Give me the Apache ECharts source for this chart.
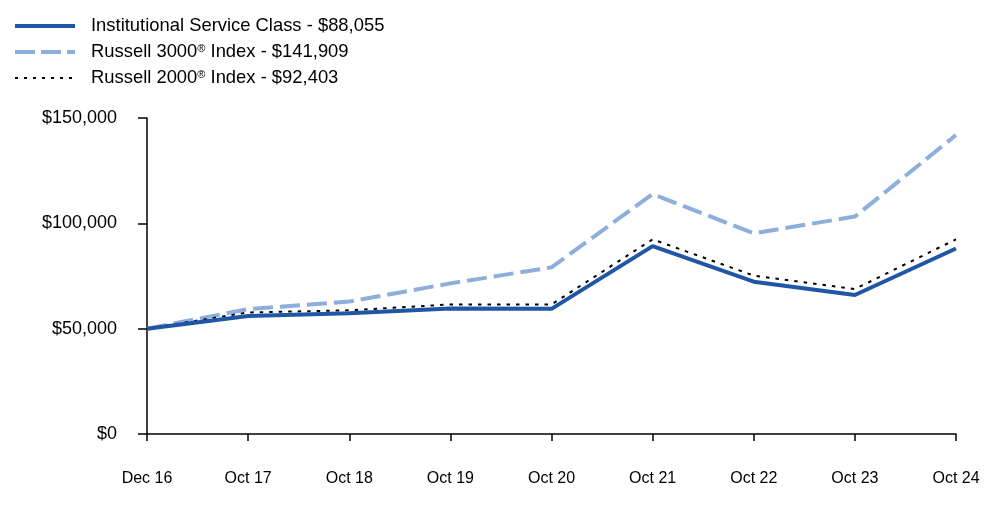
<!DOCTYPE html>
<html>
<head>
<meta charset="utf-8">
<script src="https://cdn.jsdelivr.net/npm/echarts@6/dist/echarts.min.js"></script>
<style>html,body{margin:0;padding:0;background:#fff}#c{width:1000px;height:523px}</style>
</head>
<body>
<div id="c"></div>
<script>
const categories = ['Dec 16','Oct 17','Oct 18','Oct 19','Oct 20','Oct 21','Oct 22','Oct 23','Oct 24'];
const institutional = [50000, 56000, 57300, 59600, 59400, 89200, 72300, 66000, 88055];
const russell3000 = [50000, 59300, 62900, 71500, 79100, 113900, 95300, 103200, 141909];
const russell2000 = [50000, 57700, 58700, 61500, 61500, 92400, 75200, 68800, 92403];
const yTicks = [0, 50000, 100000, 150000];
const names = ['Institutional Service Class - $88,055','Russell 3000® Index - $141,909','Russell 2000® Index - $92,403'];

const chart = echarts.init(document.getElementById('c'));
const font = 'Arial, "Liberation Sans", sans-serif';
const styles = [
  {color: '#1f56a6', width: 4, type: 'solid'},
  {color: '#8eaedb', width: 4, type: [20, 6]},
  {color: '#000', width: 2, type: [3, 6]}
];
chart.setOption({
  animation: false,
  textStyle: {fontFamily: font},
  legend: {
    orient: 'vertical', left: 13, top: 17, padding: 0, itemWidth: 60, itemHeight: 18, itemGap: 8,
    data: names.map((n, i) => ({name: n, lineStyle: styles[i], itemStyle: {opacity: 0}})),
    itemStyle: {opacity: 0},
    textStyle: {fontSize: 18.4, color: '#000', fontFamily: font, padding: [0,0,0,11],
      rich: {sup: {fontSize: 11, verticalAlign: 'top', padding: [0,0,7,0], fontFamily: font, color:'#000'}}},
    formatter: n => n.replace('®', '{sup|®}')
  },
  grid: {left: 147, right: 44, top: 118, bottom: 89},
  xAxis: {
    type: 'category', data: categories, boundaryGap: false,
    axisLine: {lineStyle: {color: '#000', width: 1.5}},
    axisTick: {length: 7, lineStyle: {color: '#000', width: 1.5}, alignWithLabel: true},
    axisLabel: {fontSize: 16, color: '#000', margin: 37, fontFamily: font}
  },
  yAxis: {
    type: 'value', min: 0, max: 150000, interval: 50000,
    splitLine: {show: false},
    axisLine: {show: true, lineStyle: {color: '#000', width: 1.5}},
    axisTick: {show: true, length: 9, lineStyle: {color: '#000', width: 1.5}},
    axisLabel: {fontSize: 18, color: '#000', margin: 30, fontFamily: font,
      formatter: v => yTicks.includes(v) ? '$' + v.toLocaleString('en-US') : ''}
  },
  series: [
    {name: names[1], type: 'line', data: russell3000, symbol: 'none', z: 2,
     lineStyle: {color: '#8eaedb', width: 4, type: [20, 7]}, itemStyle: {color: '#8eaedb'}},
    {name: names[2], type: 'line', data: russell2000, symbol: 'none', z: 3,
     lineStyle: {color: '#000', width: 2, type: [3.5, 6]}, itemStyle: {color: '#000'}},
    {name: names[0], type: 'line', data: institutional, symbol: 'none', z: 4,
     lineStyle: {color: '#1f56a6', width: 4}, itemStyle: {color: '#1f56a6'}}
  ]
});
</script>
</body>
</html>
